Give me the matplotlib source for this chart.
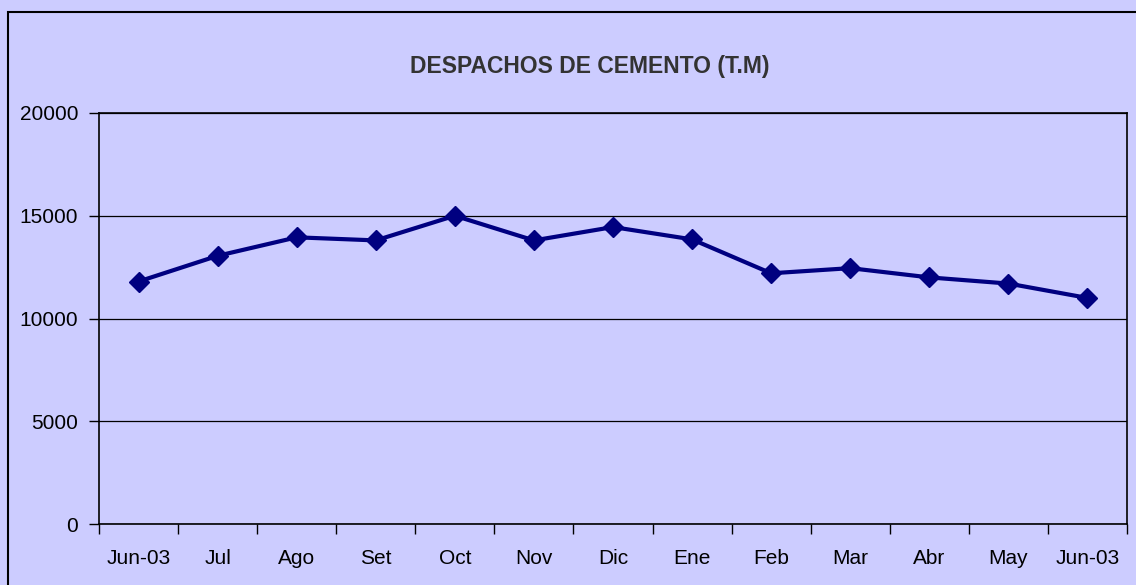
import matplotlib
matplotlib.use("Agg")
import matplotlib.pyplot as plt
import numpy as np
from matplotlib.patches import Rectangle

MONTHS = ["Jun-03", "Jul", "Ago", "Set", "Oct", "Nov", "Dic", "Ene",
          "Feb", "Mar", "Abr", "May", "Jun-03"]
DESPACHOS = [11800, 13050, 13950, 13800, 15000, 13800, 14450, 13850,
             12200, 12450, 12000, 11700, 11000]
Y_TICKS = [0, 5000, 10000, 15000, 20000]

BG = "#CCCCFF"
LINE = "#000080"

plt.rcParams["font.family"] = ["Liberation Sans", "DejaVu Sans"]

fig = plt.figure(figsize=(11.36, 5.85), dpi=100, facecolor=BG)
ax = fig.add_axes([99 / 1136, 61 / 585, 1028 / 1136, 411 / 585])
ax.set_facecolor(BG)

# outer chart border (cut off at right and bottom like the source)
fig.patches.append(Rectangle((8 / 1136, -0.1), 1.2, 1 - 12 / 585 + 0.1,
                             transform=fig.transFigure, fill=False,
                             edgecolor="black", linewidth=1.5, zorder=0))

x = np.arange(len(MONTHS))
ax.plot(x, DESPACHOS, color=LINE, linewidth=3.0, marker="D",
        markersize=10.5, markerfacecolor=LINE, markeredgecolor=LINE,
        zorder=3, clip_on=False)

ax.set_xlim(-0.5, len(MONTHS) - 0.5)
ax.set_ylim(0, 20000)
ax.set_yticks(Y_TICKS)
ax.set_yticklabels([str(v) for v in Y_TICKS], fontsize=15)
ax.yaxis.grid(True, color="black", linewidth=0.9)
ax.set_axisbelow(True)

ax.set_xticks(x)
ax.set_xticklabels(MONTHS, fontsize=15)
ax.set_xticks(np.arange(-0.5, len(MONTHS), 1), minor=True)
ax.tick_params(axis="x", which="major", length=0, pad=18)
ax.tick_params(axis="x", which="minor", length=7, width=1, direction="out")
ax.tick_params(axis="y", length=7, width=1, direction="out", pad=8)

for side in ["left", "bottom", "top", "right"]:
    ax.spines[side].set_color("black")
    ax.spines[side].set_linewidth(1.2)

fig.text(590 / 1136, 1 - 67 / 585, "DESPACHOS DE CEMENTO (T.M)",
         ha="center", va="center", fontsize=16.5, fontweight="bold",
         color="#333333")

fig.savefig("out.png", dpi=100, facecolor=BG)
